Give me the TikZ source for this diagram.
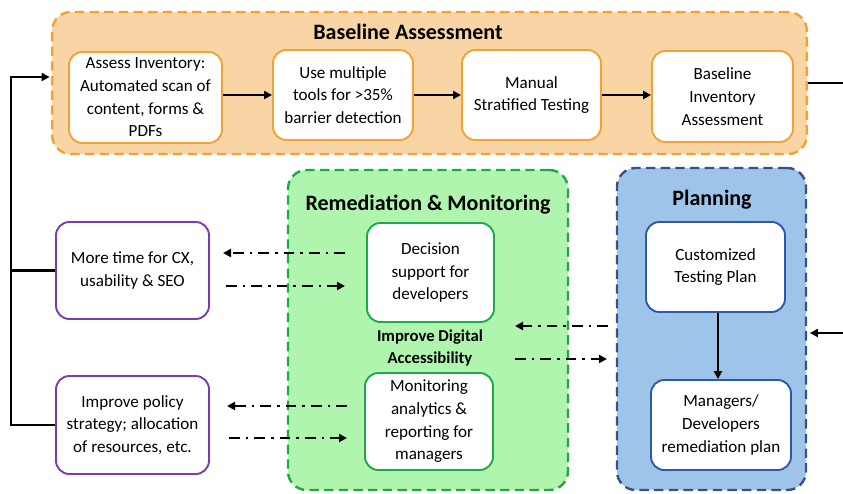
\documentclass[tikz,border=0pt]{standalone}
\usepackage{fontspec}
\setmainfont{Carlito}
\usetikzlibrary{arrows.meta}
\definecolor{orangefill}{HTML}{F9D5A6}
\definecolor{orangeline}{HTML}{F3A135}
\definecolor{greenfill}{HTML}{B0F5AD}
\definecolor{greenline}{HTML}{1EA84A}
\definecolor{bluefill}{HTML}{9FC4EA}
\definecolor{blueline}{HTML}{3A5283}
\definecolor{blueedge}{HTML}{2D5AA8}
\definecolor{purpleline}{HTML}{7B3BAF}
\begin{document}
\begin{tikzpicture}[x=0.75pt, y=-0.75pt, font=\fontsize{12.8}{17}\selectfont,
	stage/.style={draw, line width=1.8pt, dash pattern=on 7pt off 4pt, rounded corners=14pt},
	task/.style={draw, fill=white, line width=1.4pt, rounded corners=10pt, align=center, inner sep=1pt},
	title/.style={font=\fontsize{16.5}{20}\selectfont\bfseries},
	flow/.style={line width=1.7pt, -{Triangle[length=6pt, width=6pt]}},
	link/.style={line width=2pt, dash pattern=on 8pt off 4.5pt on 2pt off 4.5pt, -{Triangle[length=6pt, width=6pt]}}]
	\useasboundingbox (0,0) rectangle (843,493);
	% containers
	\node (base) at (429.5, 83)	[stage, draw=orangeline, fill=orangefill, minimum width=566pt, minimum height=106.5pt]	{};
	\node (remed) at (428, 330)	[stage, draw=greenline, fill=greenfill, minimum width=210pt, minimum height=240pt]	{};
	\node (plan) at (711.5, 329)	[stage, draw=blueline, fill=bluefill, minimum width=141.75pt, minimum height=241.5pt]	{};
	\node (baseT) at (408, 32)	[title]	{Baseline Assessment};
	\node (remedT) at (428, 205)	[title]	{Remediation \& Monitoring};
	\node (planT) at (712, 200)	[title]	{Planning};
	% baseline assessment steps
	\node (A1) at (145.5, 97.5)	[task, draw=orangeline, minimum width=114.75pt, minimum height=68.25pt]	{Assess Inventory:\\Automated scan of\\content, forms \&\\PDFs};
	\node (A2) at (343, 95)	[task, draw=orangeline, minimum width=105pt, minimum height=67.5pt]	{Use multiple\\tools for >35\%\\barrier detection};
	\node (A3) at (531.5, 95)	[task, draw=orangeline, minimum width=104.25pt, minimum height=67.5pt]	{Manual\\Stratified Testing};
	\node (A4) at (722.5, 96.5)	[task, draw=orangeline, minimum width=105.75pt, minimum height=68.25pt]	{Baseline\\Inventory\\Assessment};
	\draw[flow] (A2.west -| A1.east) -- (A2.west);
	\draw[flow] (A2) -- (A3);
	\draw[flow] (A3.east) -- (A3.east -| A4.west);
	% remediation and monitoring
	\node (G1) at (430.5, 272.5)	[task, draw=greenline, minimum width=95.25pt, minimum height=74.25pt]	{Decision\\support for\\developers};
	\node (G2) at (429, 421.5)	[task, draw=greenline, minimum width=96pt, minimum height=72.75pt]	{Monitoring\\analytics \&\\reporting for\\managers};
	\node (goal) at (430, 348)	[align=center, font=\fontsize{12.5}{16.5}\selectfont\bfseries]	{Improve Digital\\Accessibility};
	% planning
	\node (B1) at (715.5, 267)	[task, draw=blueedge, minimum width=104.25pt, minimum height=67.5pt]	{Customized\\Testing Plan};
	\node (B2) at (721, 425)	[task, draw=blueedge, minimum width=105pt, minimum height=67.5pt]	{Managers/\\Developers\\remediation plan};
	\draw[flow] (B1.south -| 718, 0) -- (B2.north -| 718, 0);
	% outcomes
	\node (P1) at (132.5, 270.5)	[task, draw=purpleline, minimum width=114.75pt, minimum height=72.75pt]	{More time for CX,\\usability \& SEO};
	\node (P2) at (132.5, 425)	[task, draw=purpleline, minimum width=114.75pt, minimum height=73.5pt]	{Improve policy\\strategy; allocation\\of resources, etc.};
	% loose ends
	\coordinate (fbtop) at (11, 77);
	\coordinate (outR) at (843, 83);
	\coordinate (inR) at (843, 333);
	\coordinate (u1) at (345, 253);	\coordinate (v1) at (223, 253);
	\coordinate (u2) at (226, 286);	\coordinate (v2) at (345, 286);
	\coordinate (u3) at (347, 406);	\coordinate (v3) at (227, 406);
	\coordinate (u4) at (229, 438);	\coordinate (v4) at (347, 438);
	\coordinate (u5) at (608, 326);	\coordinate (v5) at (515, 326);
	\coordinate (u6) at (515, 359);	\coordinate (v6) at (607, 359);
	\draw[flow, shorten >=1pt] (P2.west) -| (fbtop) -- (fbtop -| base.west);
	\draw[line width=1.7pt] (P1.west) -- (P1.west -| fbtop);
	\draw[line width=1.7pt] (base.east |- outR) -- (outR);
	\draw[flow, shorten >=2pt] (inR) -- (plan.east |- inR);
	\foreach \i in {1,...,6}
		\draw[link] (u\i) -- (v\i);
\end{tikzpicture}
\end{document}
